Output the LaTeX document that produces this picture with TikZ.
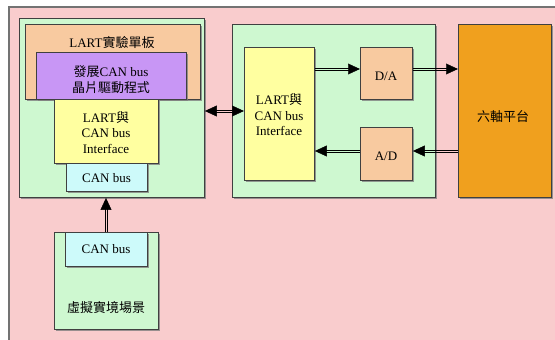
\documentclass[tikz,border=0pt]{standalone}
\usepackage{fontspec}
\setmainfont{Liberation Serif}
\newfontfamily\cjk{Noto Sans CJK TC}
\usetikzlibrary{arrows.meta,shadows,decorations.markings}
\definecolor{bgpink}{RGB}{249,204,205}
\definecolor{lgreen}{RGB}{206,248,208}
\definecolor{peach}{RGB}{248,202,160}
\definecolor{lpurple}{RGB}{200,150,245}
\definecolor{lyellow}{RGB}{255,255,160}
\definecolor{lblue}{RGB}{205,250,250}
\definecolor{platorange}{RGB}{240,160,30}
\tikzset{
  x=1pt,y=-1pt,
  box/.style={draw=black!75, line width=0.8pt, anchor=north west, inner sep=0pt,
    drop shadow={shadow xshift=1.6pt, shadow yshift=-1.6pt, fill=black!50, opacity=0.8}},
  lbl/.style={font=\fontsize{13}{15.5}\selectfont, align=center, inner sep=0pt},
  endtip/.style={postaction={decorate, line width=0.5pt, decoration={markings,
    mark=at position 1 with {\arrow{Triangle[length=12pt,width=11pt]}}}}},
  starttip/.style={postaction={decorate, line width=0.5pt, decoration={markings,
    mark=at position 0 with {\arrowreversed{Triangle[length=12pt,width=11pt]}}}}},
  hdbl/.style={
    postaction={draw=black, line width=0.75pt, shorten >=11pt, transform canvas={yshift=1pt}},
    postaction={draw=black, line width=0.75pt, shorten >=11pt, transform canvas={yshift=-1pt}},
    endtip},
  hdbl2/.style={
    postaction={draw=black, line width=0.75pt, shorten >=11pt, shorten <=11pt, transform canvas={yshift=1pt}},
    postaction={draw=black, line width=0.75pt, shorten >=11pt, shorten <=11pt, transform canvas={yshift=-1pt}},
    endtip, starttip},
  vdbl/.style={
    postaction={draw=black, line width=0.75pt, shorten >=11pt, transform canvas={xshift=1pt}},
    postaction={draw=black, line width=0.75pt, shorten >=11pt, transform canvas={xshift=-1pt}},
    endtip},
}
\begin{document}
\begin{tikzpicture}
\useasboundingbox (0,0) rectangle (555,340);
\fill[white] (0,0) rectangle (555,340);
\begin{scope}
\clip (0,0) rectangle (555,340);
\node[draw=black!55, line width=1.6pt, fill=bgpink, anchor=north west, minimum width=560pt, minimum height=345pt, inner sep=0pt] (frame) at (8,6) {};
\end{scope}
% left group
\node[box, fill=lgreen, minimum width=185pt, minimum height=179pt] (lgrp) at (19,18) {};
\node[box, fill=peach, minimum width=175pt, minimum height=75pt] (lart) at (25,24) {};
\node[lbl] (larttxt) at (112,43) {LART{\cjk 實驗單板}};
\node[box, fill=lpurple, minimum width=150pt, minimum height=47pt] (drv) at (36,52) {};
\node[lbl] (drvtxt) at (111,79.5) {{\cjk 發展}CAN bus\\{\cjk 晶片驅動程式}};
\node[box, fill=lyellow, minimum width=104pt, minimum height=64pt] (ifl) at (54,99) {};
\node[lbl] (ifltxt) at (106,132.5) {LART{\cjk 與}\\CAN bus\\Interface};
\node[box, fill=lblue, minimum width=81pt, minimum height=28pt] (cant) at (66,163) {};
\node[lbl] (canttxt) at (106.5,178) {CAN bus};
% middle group
\node[box, fill=lgreen, minimum width=203pt, minimum height=173pt] (mgrp) at (232,24) {};
\node[box, fill=lyellow, minimum width=70pt, minimum height=133pt] (ifm) at (244,47) {};
\node[lbl] (ifmtxt) at (279,115) {LART{\cjk 與}\\CAN bus\\Interface};
\node[box, fill=peach, minimum width=52pt, minimum height=52pt] (da) at (360,47) {};
\node[lbl] (datxt) at (386,76) {D/A};
\node[box, fill=peach, minimum width=52pt, minimum height=53pt] (ad) at (360,127) {};
\node[lbl] (adtxt) at (386,156) {A/D};
% platform
\node[box, fill=platorange, minimum width=93pt, minimum height=173pt] (plat) at (458,24) {};
\node[lbl] (plattxt) at (503,117) {\cjk 六軸平台};
% bottom group
\node[box, fill=lgreen, minimum width=104pt, minimum height=97pt] (vr) at (54,232) {};
\node[box, fill=lblue, minimum width=82pt, minimum height=34pt] (canb) at (65,232) {};
\node[lbl] (canbtxt) at (106,249) {CAN bus};
\node[lbl] (vrtxt) at (106,308) {\cjk 虛擬實境場景};
% connectors
\path[hdbl2] (lgrp.east |- 0,111) -- (ifm.west |- 0,111);
\path[hdbl] (ifm.east |- 0,69) -- (da.west |- 0,69);
\path[hdbl] (da.east |- 0,69) -- (plat.west |- 0,69);
\path[hdbl] (plat.west |- 0,151) -- (ad.east |- 0,151);
\path[hdbl] (ad.west |- 0,151) -- (ifm.east |- 0,151);
\path[vdbl] (canb.north -| 106,0) -- (lgrp.south -| 106,0);
\end{tikzpicture}
\end{document}
